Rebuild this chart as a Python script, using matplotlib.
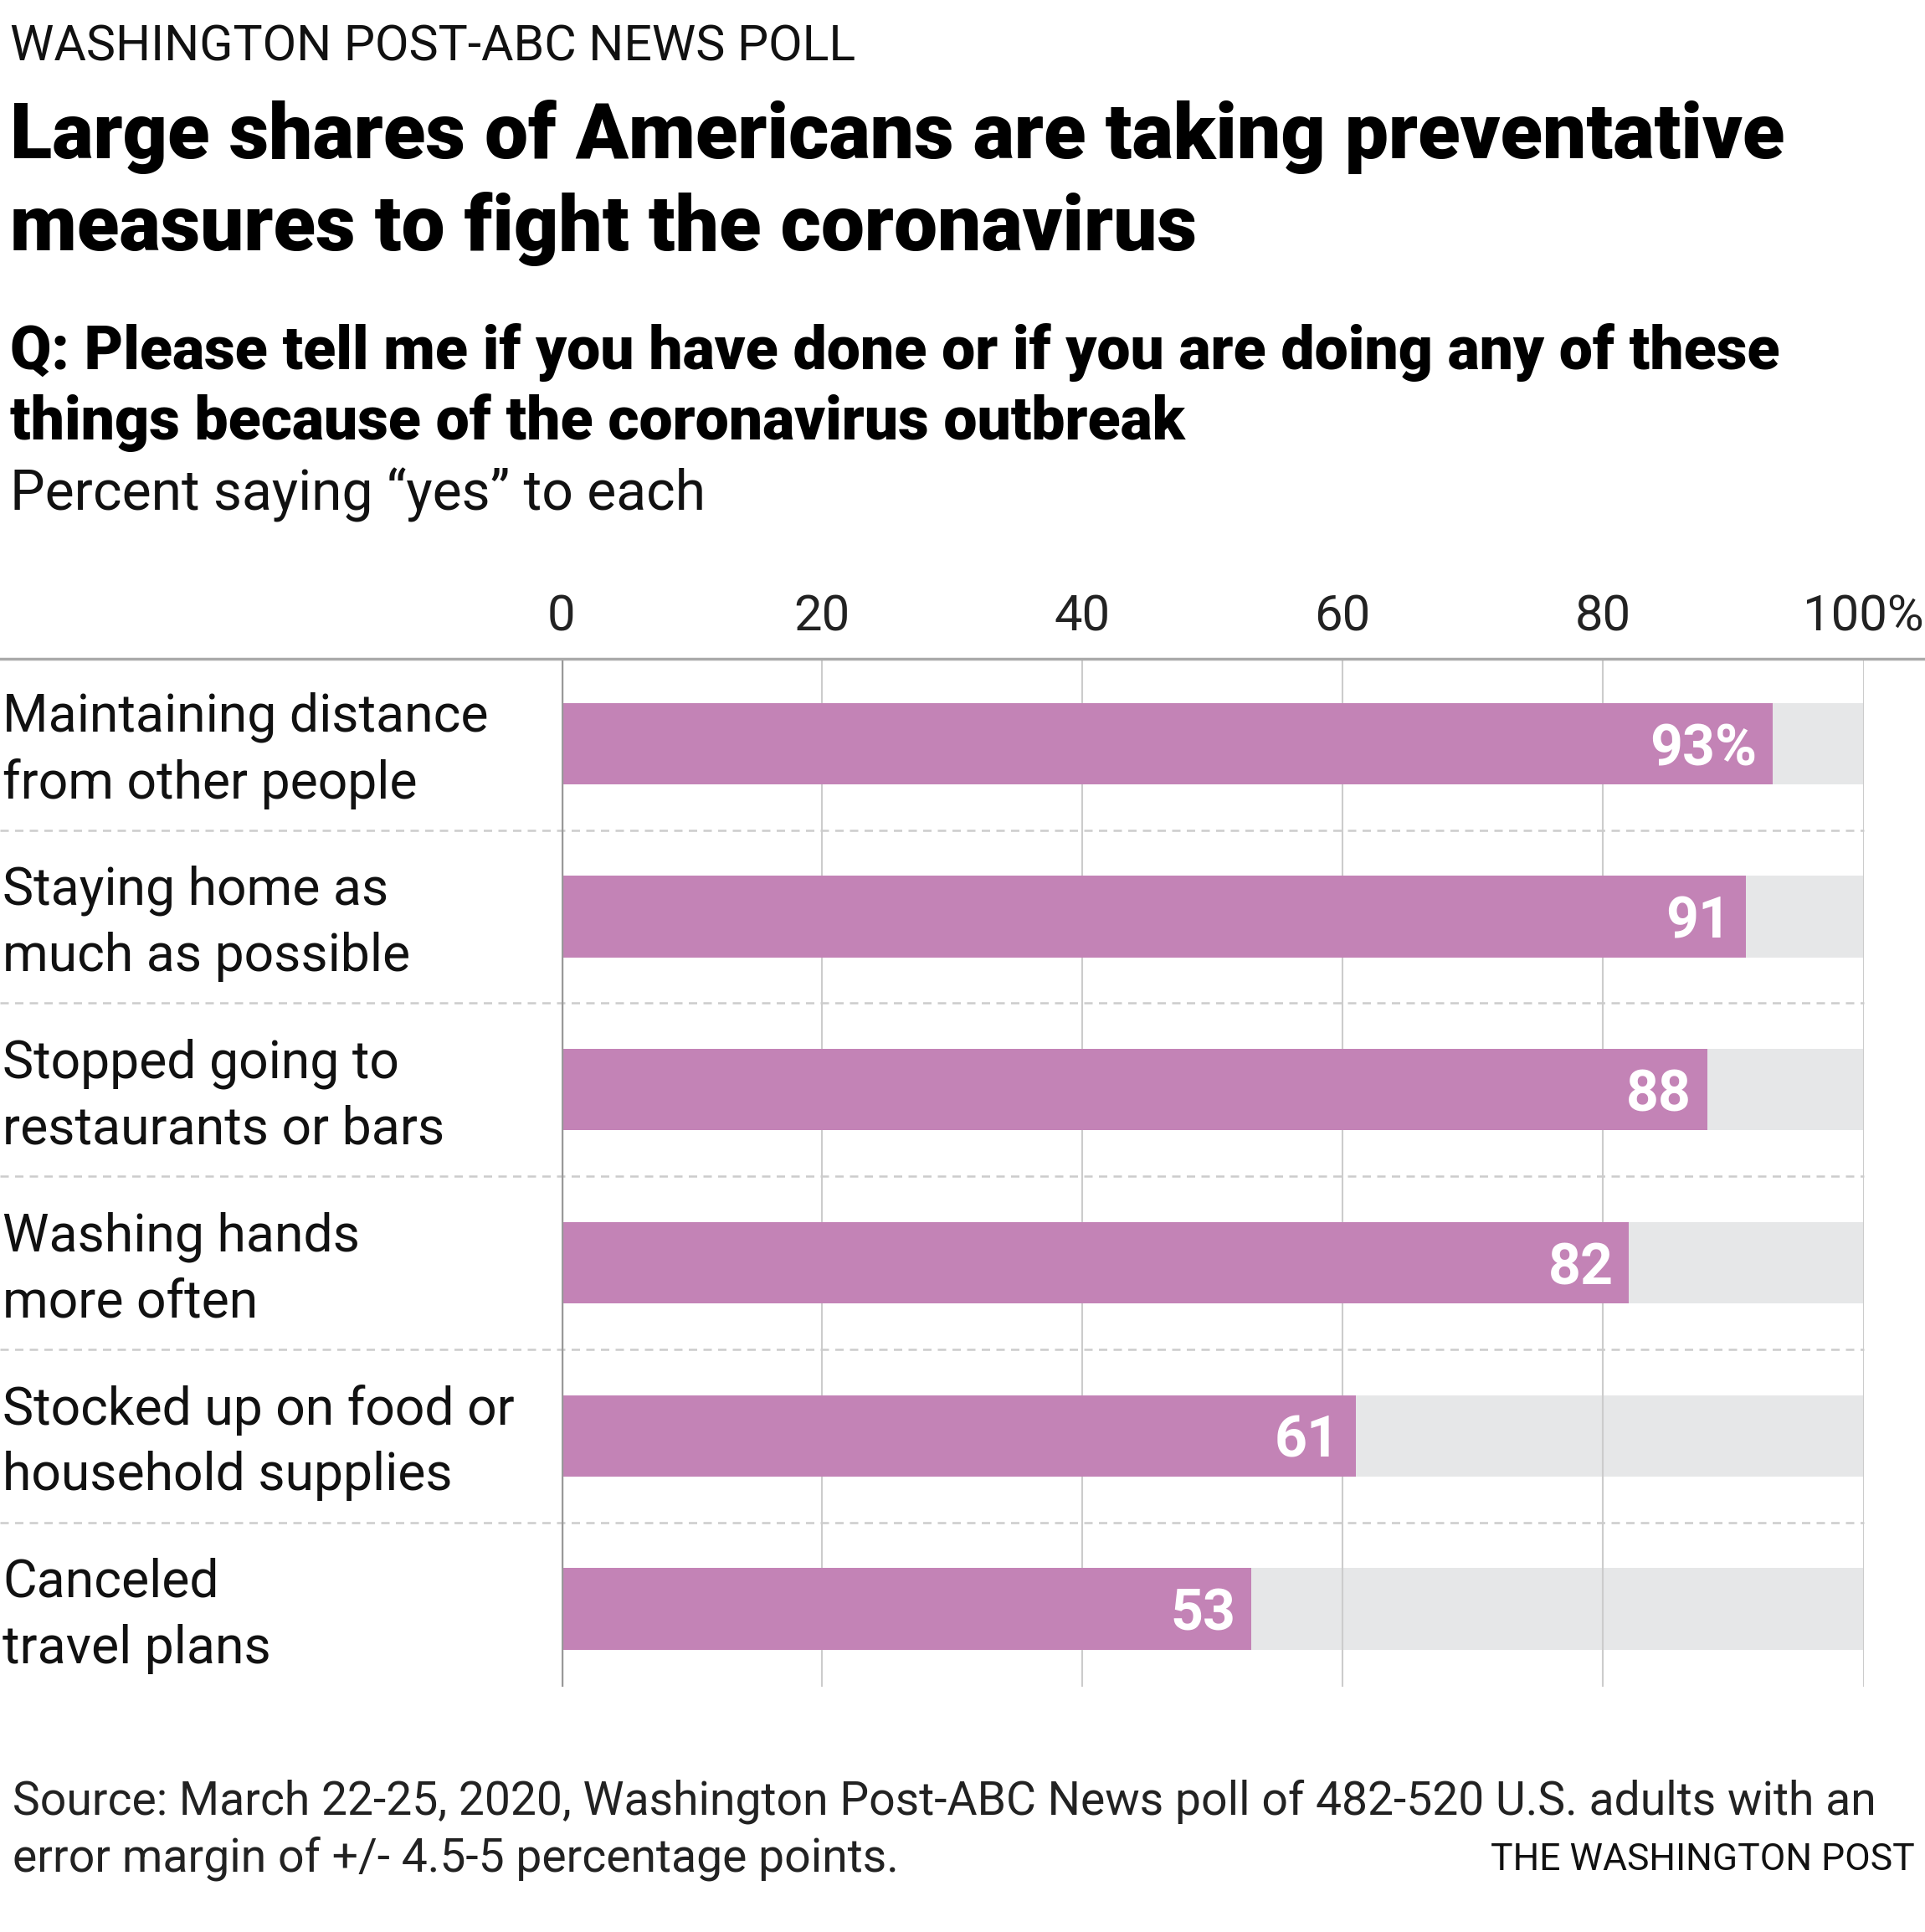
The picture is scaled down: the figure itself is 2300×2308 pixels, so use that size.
import matplotlib
matplotlib.use("Agg")
import matplotlib.pyplot as plt
import matplotlib.transforms as mtransforms

# data
categories = [
    "Maintaining distance\nfrom other people",
    "Staying home as\nmuch as possible",
    "Stopped going to\nrestaurants or bars",
    "Washing hands\nmore often",
    "Stocked up on food or\nhousehold supplies",
    "Canceled\ntravel plans",
]
values = [93, 91, 88, 82, 61, 53]
value_labels = ["93%", "91", "88", "82", "61", "53"]
ticks = [0, 20, 40, 60, 80, 100]
tick_labels = ["0", "20", "40", "60", "80", "100%"]

PINK = "#c383b6"
BG = "#e6e7e8"
FONT = ["Roboto", "DejaVu Sans"]
plt.rcParams["font.family"] = FONT

W, H = 2300, 2308
fig = plt.figure(figsize=(W / 100, H / 100), dpi=100)
fig.patch.set_facecolor("white")

# axes placed in pixel terms of the reference
x0, x1 = 670.6, 2226.5
ytop, ybot = 787, 2015
ax = fig.add_axes([x0 / W, 1 - ybot / H, (x1 - x0) / W, (ybot - ytop) / H])
ax.set_xlim(0, 100)
ax.set_ylim(5.45, -0.49)
for s in ax.spines.values():
    s.set_visible(False)
ax.set_xticks([])
ax.set_yticks([])

ypos = list(range(len(categories)))
bh = 0.47
# background (100%) bars
ax.barh(ypos, [100] * len(values), height=bh, color=BG, zorder=1)
# gridlines
for t in ticks[1:]:
    ax.axvline(t, color="#cccccc", lw=1.5, zorder=2)
ax.axvline(0, color="#999999", lw=2.5, zorder=4)
ax.barh(ypos, values, height=bh, color=PINK, zorder=3)

for y, v, lab in zip(ypos, values, value_labels):
    ax.text(v - 1.2, y + 0.035, lab, ha="right", va="center", color="white",
            fontsize=49, fontweight="bold", zorder=5)

# tick labels on top
for t, lab in zip(ticks, tick_labels):
    fig.text((x0 + t / 100 * (x1 - x0)) / W, 1 - 737 / H, lab, ha="center",
             va="center", fontsize=43, color="#222222")

# top axis line across the full width
ftr = mtransforms.blended_transform_factory(fig.transFigure, ax.transAxes)
ax.plot([0, 1], [1, 1], color="#aaaaaa", lw=2.5, transform=ftr, clip_on=False, zorder=6)

# dashed separators between rows
sep = mtransforms.blended_transform_factory(fig.transFigure, ax.transData)
for y in ypos[:-1]:
    ax.plot([0, x1 / W], [y + 0.5, y + 0.5], color="#cccccc", lw=1.8,
            ls=(0, (4, 3)), transform=sep, clip_on=False, zorder=2)

# category labels
for y, c in zip(ypos, categories):
    ax.text(3 / W, y + 0.04, c, ha="left", va="center", fontsize=45,
            linespacing=1.4, transform=sep, color="#111111")

# titles
fig.text(12 / W, 1 - 56 / H, "WASHINGTON POST-ABC NEWS POLL", ha="left",
         va="center", fontsize=42.5, color="#111111")
fig.text(12 / W, 1 - 164 / H, "Large shares of Americans are taking preventative",
         ha="left", va="center", fontsize=66.8, fontweight="heavy", color="black")
fig.text(12 / W, 1 - 274 / H, "measures to fight the coronavirus",
         ha="left", va="center", fontsize=66.8, fontweight="heavy", color="black")
fig.text(12 / W, 1 - 421 / H,
         "Q: Please tell me if you have done or if you are doing any of these",
         ha="left", va="center", fontsize=51.5, fontweight="heavy", color="black")
fig.text(12 / W, 1 - 505 / H, "things because of the coronavirus outbreak",
         ha="left", va="center", fontsize=51.5, fontweight="heavy", color="black")
fig.text(12 / W, 1 - 591 / H, "Percent saying \u201cyes\u201d to each",
         ha="left", va="center", fontsize=47.5, color="#111111")

# footer
fig.text(15 / W, 1 - 2152 / H,
         "Source: March 22-25, 2020, Washington Post-ABC News poll of 482-520 U.S. adults with an",
         ha="left", va="center", fontsize=39.8, color="#222222")
fig.text(15 / W, 1 - 2220 / H, "error margin of +/- 4.5-5 percentage points.",
         ha="left", va="center", fontsize=39.8, color="#222222")
fig.text(2288 / W, 1 - 2222 / H, "THE WASHINGTON POST", ha="right",
         va="center", fontsize=32, color="#111111")

fig.savefig("out.png", dpi=100, facecolor="white")
